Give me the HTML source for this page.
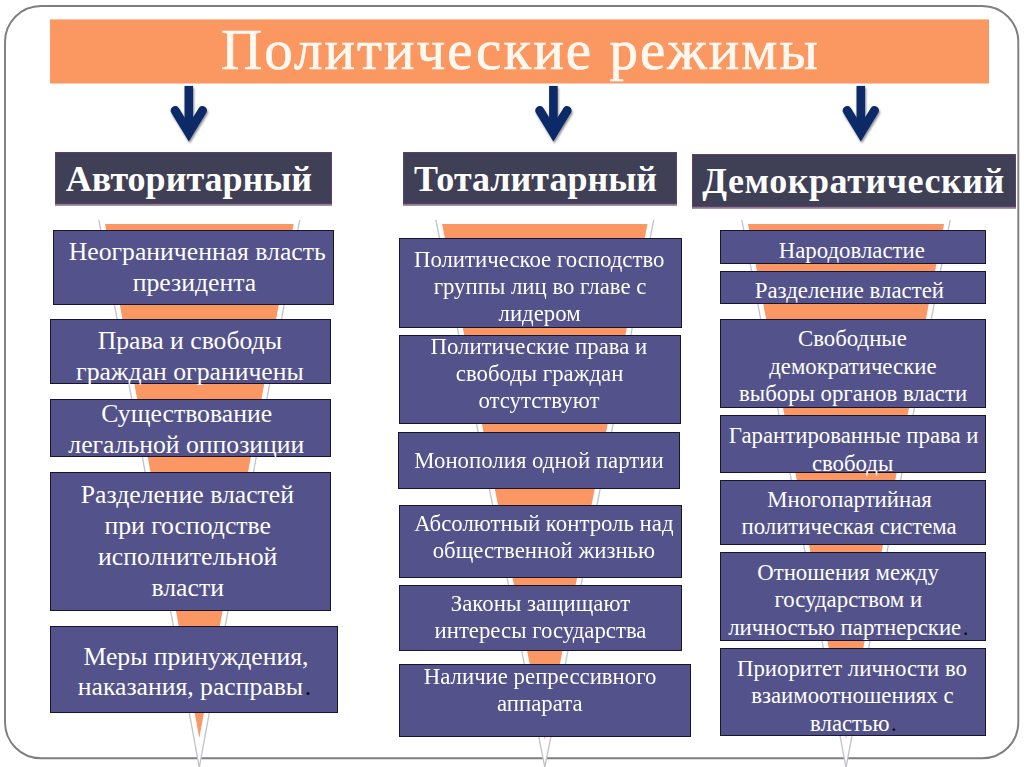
<!DOCTYPE html>
<html><head><meta charset="utf-8"><style>
html,body{margin:0;padding:0;}
body{width:1024px;height:767px;position:relative;overflow:hidden;background:#fff;font-family:"Liberation Serif",serif;}
.b{position:absolute;box-sizing:border-box;}
.t{position:absolute;white-space:nowrap;text-align:center;width:1000px;line-height:1;color:#fff;}
.ti{position:absolute;white-space:nowrap;text-align:center;width:1000px;line-height:1;-webkit-text-stroke:0.7px #FFF8F0;}
.t b{color:#0A0A14;font-weight:400;margin-left:1.5px;}
.h{position:absolute;white-space:nowrap;text-align:center;width:1000px;line-height:1;color:#fff;font-weight:700;}
svg{position:absolute;left:0;top:0;}
</style></head><body>

<svg width="1024" height="767" viewBox="0 0 1024 767">
<defs><filter id="sh" x="-30%" y="-30%" width="160%" height="160%"><feGaussianBlur in="SourceAlpha" stdDeviation="1.2"/><feOffset dx="1.2" dy="1.8" result="o"/><feComponentTransfer><feFuncA type="linear" slope="0.45"/></feComponentTransfer><feMerge><feMergeNode/><feMergeNode in="SourceGraphic"/></feMerge></filter></defs>
<rect x="5" y="6" width="1013.3" height="752.3" rx="36" ry="36" fill="none" stroke="#7E7E7E" stroke-width="1.9"/>
<rect x="50" y="19.4" width="939" height="64.1" fill="#FB9862"/>
<polygon points="98.88,220.0 299.72,220.0 199.30,767.37" fill="#FFFFFF"/><path d="M98.88,220.0 L199.30,767.37 L299.72,220.0" fill="none" stroke="#C2C2C8" stroke-width="1.3" stroke-linejoin="miter" stroke-miterlimit="30"/><polygon points="105.00,224 293.60,224 199.30,738" fill="#FA9762"/>
<polygon points="435.90,220.0 653.70,220.0 544.80,767.15" fill="#FFFFFF"/><path d="M435.90,220.0 L544.80,767.15 L653.70,220.0" fill="none" stroke="#C2C2C8" stroke-width="1.3" stroke-linejoin="miter" stroke-miterlimit="30"/><polygon points="442.10,224 647.50,224 544.80,740" fill="#FA9762"/>
<polygon points="741.84,220.0 950.16,220.0 846.00,767.35" fill="#FFFFFF"/><path d="M741.84,220.0 L846.00,767.35 L950.16,220.0" fill="none" stroke="#C2C2C8" stroke-width="1.3" stroke-linejoin="miter" stroke-miterlimit="30"/><polygon points="748.00,224 944.00,224 846.00,739" fill="#FA9762"/>
<g filter="url(#sh)"><rect x="184.50" y="85.9" width="8.6" height="46" fill="#0F2968"/><path d="M175.10 110.5 L188.80 132.8 L202.50 110.5" fill="none" stroke="#0F2968" stroke-width="9" stroke-linecap="round" stroke-linejoin="miter" stroke-miterlimit="10"/></g>
<g filter="url(#sh)"><rect x="549.10" y="85.9" width="8.6" height="46" fill="#0F2968"/><path d="M539.70 110.5 L553.40 132.8 L567.10 110.5" fill="none" stroke="#0F2968" stroke-width="9" stroke-linecap="round" stroke-linejoin="miter" stroke-miterlimit="10"/></g>
<g filter="url(#sh)"><rect x="856.50" y="85.9" width="8.6" height="46" fill="#0F2968"/><path d="M847.10 110.5 L860.80 132.8 L874.50 110.5" fill="none" stroke="#0F2968" stroke-width="9" stroke-linecap="round" stroke-linejoin="miter" stroke-miterlimit="10"/></g>
</svg>
<div class="ti" style="left:20.4px;top:20.7px;font-size:57px;letter-spacing:2.05px;color:#FFF8F0">Политические режимы</div>
<div class="b" style="left:54.5px;top:152.1px;width:277.5px;height:52.1px;background:#3F3F55;border:1.5px solid #5E3F70;box-shadow:0 1.8px 0 #8C7C8E"></div>
<div class="h" style="left:-311.0px;top:161.0px;font-size:36px;letter-spacing:0px">Авторитарный</div>
<div class="b" style="left:402.6px;top:152.1px;width:274.0px;height:52.1px;background:#3F3F55;border:1.5px solid #5E3F70;box-shadow:0 1.8px 0 #8C7C8E"></div>
<div class="h" style="left:35.5px;top:161.2px;font-size:36px;letter-spacing:0px">Тоталитарный</div>
<div class="b" style="left:692.1px;top:154.4px;width:323.9px;height:52.8px;background:#3F3F55;border:1.5px solid #5E3F70;box-shadow:0 1.8px 0 #8C7C8E"></div>
<div class="h" style="left:353.6px;top:162.8px;font-size:36px;letter-spacing:0.55px">Демократический</div>
<div class="b" style="left:53.2px;top:230.3px;width:280.7px;height:74.3px;background:#53528A;border:1.7px solid #18162E"></div>
<div class="t" style="left:-302.80px;top:239.0px;font-size:25.7px">Неограниченная власть</div>
<div class="t" style="left:-305.60px;top:269.6px;font-size:25.7px">президента</div>
<div class="b" style="left:49.8px;top:318.5px;width:281.1px;height:65.4px;background:#53528A;border:1.7px solid #18162E"></div>
<div class="t" style="left:-310.20px;top:328.0px;font-size:25.7px">Права и свободы</div>
<div class="t" style="left:-310.10px;top:358.8px;font-size:25.7px">граждан ограничены</div>
<div class="b" style="left:49.8px;top:399.3px;width:281.1px;height:57.8px;background:#53528A;border:1.7px solid #18162E"></div>
<div class="t" style="left:-313.30px;top:401.0px;font-size:25.7px">Существование</div>
<div class="t" style="left:-313.70px;top:431.7px;font-size:25.7px">легальной оппозиции</div>
<div class="b" style="left:49.8px;top:472.0px;width:280.9px;height:139.1px;background:#53528A;border:1.7px solid #18162E"></div>
<div class="t" style="left:-312.60px;top:481.8px;font-size:25.7px">Разделение властей</div>
<div class="t" style="left:-312.30px;top:512.5px;font-size:25.7px">при господстве</div>
<div class="t" style="left:-312.30px;top:543.5px;font-size:25.7px">исполнительной</div>
<div class="t" style="left:-312.30px;top:574.7px;font-size:25.7px">власти</div>
<div class="b" style="left:49.8px;top:626.0px;width:288.6px;height:87.2px;background:#53528A;border:1.7px solid #18162E"></div>
<div class="t" style="left:-304.10px;top:643.6px;font-size:25.7px">Меры принуждения,</div>
<div class="t" style="left:-305.60px;top:674.1px;font-size:25.7px">наказания, расправы<b>.</b></div>
<div class="b" style="left:399.0px;top:238.4px;width:283.0px;height:89.3px;background:#53528A;border:1.7px solid #18162E"></div>
<div class="t" style="left:39.20px;top:248.7px;font-size:22.8px;transform:scaleY(1.03);transform-origin:50% 18px">Политическое господство</div>
<div class="t" style="left:40.00px;top:275.7px;font-size:22.8px;transform:scaleY(1.03);transform-origin:50% 18px">группы лиц во главе с</div>
<div class="t" style="left:39.60px;top:302.6px;font-size:22.8px;transform:scaleY(1.03);transform-origin:50% 18px">лидером</div>
<div class="b" style="left:398.5px;top:334.5px;width:282.2px;height:89.6px;background:#53528A;border:1.7px solid #18162E"></div>
<div class="t" style="left:38.90px;top:335.8px;font-size:22.8px;transform:scaleY(1.03);transform-origin:50% 18px">Политические права и</div>
<div class="t" style="left:39.60px;top:362.9px;font-size:22.8px;transform:scaleY(1.03);transform-origin:50% 18px">свободы граждан</div>
<div class="t" style="left:38.90px;top:389.9px;font-size:22.8px;transform:scaleY(1.03);transform-origin:50% 18px">отсутствуют</div>
<div class="b" style="left:398.0px;top:431.9px;width:281.6px;height:57.1px;background:#53528A;border:1.7px solid #18162E"></div>
<div class="t" style="left:39.00px;top:449.7px;font-size:22.8px;transform:scaleY(1.03);transform-origin:50% 18px">Монополия одной партии</div>
<div class="b" style="left:399.0px;top:505.0px;width:283.0px;height:72.7px;background:#53528A;border:1.7px solid #18162E"></div>
<div class="t" style="left:43.90px;top:512.9px;font-size:22.8px;transform:scaleY(1.03);transform-origin:50% 18px">Абсолютный контроль над</div>
<div class="t" style="left:43.90px;top:540.4px;font-size:22.8px;transform:scaleY(1.03);transform-origin:50% 18px">общественной жизнью</div>
<div class="b" style="left:399.0px;top:585.4px;width:282.8px;height:65.5px;background:#53528A;border:1.7px solid #18162E"></div>
<div class="t" style="left:40.50px;top:593.2px;font-size:22.8px;transform:scaleY(1.03);transform-origin:50% 18px">Законы защищают</div>
<div class="t" style="left:40.50px;top:620.4px;font-size:22.8px;transform:scaleY(1.03);transform-origin:50% 18px">интересы государства</div>
<div class="b" style="left:399.0px;top:663.8px;width:291.8px;height:73.4px;background:#53528A;border:1.7px solid #18162E"></div>
<div class="t" style="left:40.10px;top:665.5px;font-size:22.8px;transform:scaleY(1.03);transform-origin:50% 18px">Наличие репрессивного</div>
<div class="t" style="left:39.80px;top:692.8px;font-size:22.8px;transform:scaleY(1.03);transform-origin:50% 18px">аппарата</div>
<div class="b" style="left:719.8px;top:230.4px;width:266.0px;height:33.6px;background:#53528A;border:1.7px solid #18162E"></div>
<div class="t" style="left:351.80px;top:240.0px;font-size:22.8px">Народовластие</div>
<div class="b" style="left:719.8px;top:271.0px;width:266.0px;height:33.1px;background:#53528A;border:1.7px solid #18162E"></div>
<div class="t" style="left:349.40px;top:280.1px;font-size:22.8px">Разделение властей</div>
<div class="b" style="left:719.8px;top:318.8px;width:266.0px;height:89.3px;background:#53528A;border:1.7px solid #18162E"></div>
<div class="t" style="left:352.40px;top:328.1px;font-size:22.8px">Свободные</div>
<div class="t" style="left:352.90px;top:356.0px;font-size:22.8px">демократические</div>
<div class="t" style="left:353.10px;top:383.2px;font-size:22.8px">выборы органов власти</div>
<div class="b" style="left:719.8px;top:415.1px;width:266.0px;height:57.8px;background:#53528A;border:1.7px solid #18162E"></div>
<div class="t" style="left:353.70px;top:425.1px;font-size:22.8px">Гарантированные права и</div>
<div class="t" style="left:352.60px;top:452.6px;font-size:22.8px">свободы</div>
<div class="b" style="left:719.8px;top:479.5px;width:266.0px;height:65.5px;background:#53528A;border:1.7px solid #18162E"></div>
<div class="t" style="left:349.50px;top:489.1px;font-size:22.8px">Многопартийная</div>
<div class="t" style="left:349.10px;top:515.9px;font-size:22.8px">политическая система</div>
<div class="b" style="left:719.8px;top:552.0px;width:266.0px;height:88.9px;background:#53528A;border:1.7px solid #18162E"></div>
<div class="t" style="left:348.00px;top:561.7px;font-size:22.8px">Отношения между</div>
<div class="t" style="left:348.30px;top:589.0px;font-size:22.8px">государством и</div>
<div class="t" style="left:348.30px;top:616.6px;font-size:22.8px">личностью партнерские<b>.</b></div>
<div class="b" style="left:719.8px;top:648.2px;width:266.0px;height:87.4px;background:#53528A;border:1.7px solid #18162E"></div>
<div class="t" style="left:352.00px;top:657.7px;font-size:22.8px">Приоритет личности во</div>
<div class="t" style="left:352.40px;top:685.0px;font-size:22.8px">взаимоотношениях с</div>
<div class="t" style="left:353.40px;top:712.6px;font-size:22.8px">властью<b>.</b></div>
</body></html>
